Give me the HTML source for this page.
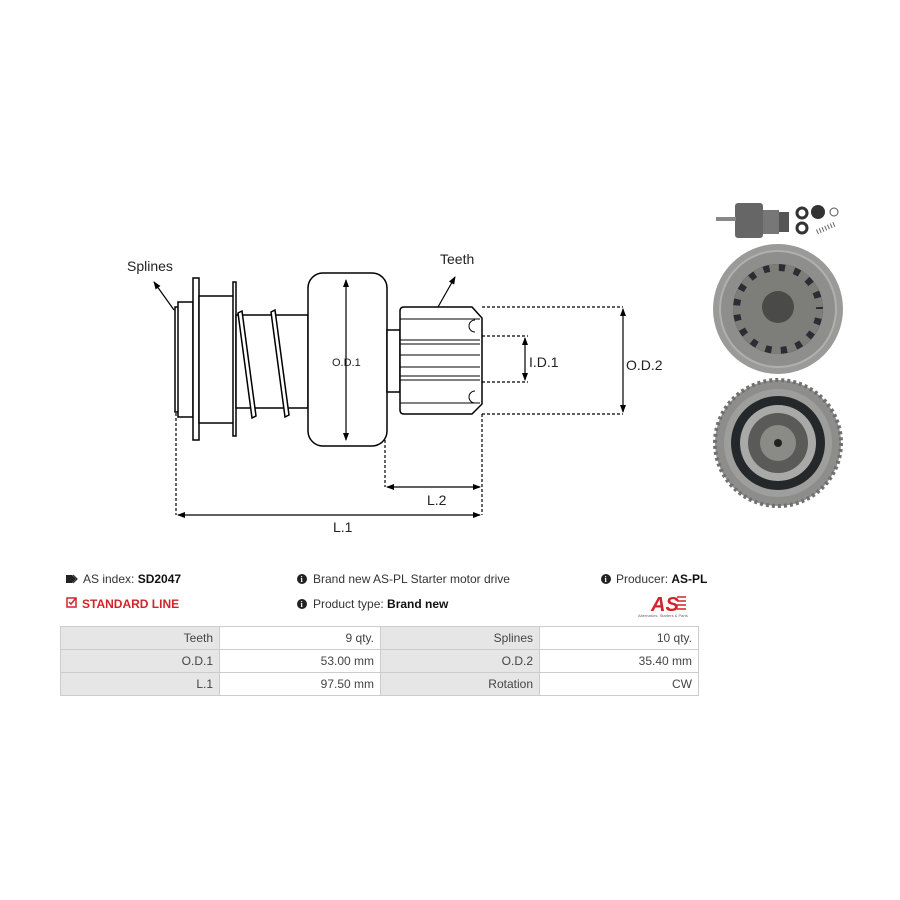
<!DOCTYPE html>
<html><head><meta charset="utf-8"><style>
html,body{margin:0;padding:0;background:#fff;}
body{width:900px;height:900px;position:relative;overflow:hidden;font-family:"Liberation Sans",sans-serif;}
.t{position:absolute;font-size:12px;color:#333;white-space:nowrap;}
table{position:absolute;left:60px;top:626px;width:638px;border-collapse:collapse;font-size:12px;color:#444;table-layout:fixed;}
td{height:22px;border:1px solid #ccc;text-align:right;padding:0 6px;}
td.g{background:#e6e6e6;}
</style></head><body>
<svg width="900" height="900" style="position:absolute;left:0;top:0" xmlns="http://www.w3.org/2000/svg">
<defs>
<marker id="a" markerWidth="8" markerHeight="8" refX="7" refY="4" orient="auto" markerUnits="userSpaceOnUse"><path d="M0,1 L8,4 L0,7 Z" fill="#000"/></marker>
<marker id="b" markerWidth="8" markerHeight="8" refX="1" refY="4" orient="auto" markerUnits="userSpaceOnUse"><path d="M8,1 L0,4 L8,7 Z" fill="#000"/></marker>
</defs>
<g fill="#fff" stroke="#000" stroke-width="1.5">
<rect x="175" y="307" width="4" height="105"/>
<rect x="178" y="302" width="15" height="115"/>
<rect x="193" y="278" width="6" height="162"/>
<rect x="199" y="296" width="35" height="127"/>
<rect x="233" y="282" width="3" height="154"/>
<rect x="236" y="315" width="72" height="93"/>
<path d="M238,313 l4,-2 l14,105 l-4,2 z"/>
<path d="M271,312 l4,-2 l14,105 l-4,2 z"/>
<rect x="308" y="273" width="79" height="173" rx="15"/>
<rect x="387" y="330" width="13" height="62"/>
<path d="M404,307 L472,307 L482,318 L482,404 L472,414 L404,414 Q400,414 400,410 L400,311 Q400,307 404,307 Z"/>
</g>
<g stroke="#000" stroke-width="1" fill="none">
<line x1="400" y1="319" x2="480" y2="319"/><line x1="400" y1="340" x2="480" y2="340"/><line x1="400" y1="344" x2="480" y2="344"/>
<line x1="400" y1="355" x2="480" y2="355"/><line x1="400" y1="367" x2="480" y2="367"/><line x1="400" y1="376" x2="480" y2="376"/>
<line x1="400" y1="380" x2="480" y2="380"/><line x1="400" y1="403" x2="480" y2="403"/>
<path d="M475,320 a5,5 0 0 0 0,12"/><path d="M475,391 a5,5 0 0 0 0,12"/>
</g>
<g stroke="#000" stroke-width="1.2" stroke-dasharray="3,2" fill="none">
<line x1="482" y1="307" x2="623" y2="307"/><line x1="482" y1="414" x2="623" y2="414"/>
<line x1="482" y1="336" x2="528" y2="336"/><line x1="482" y1="382" x2="528" y2="382"/>
<line x1="176" y1="413" x2="176" y2="515"/><line x1="385" y1="440" x2="385" y2="487"/><line x1="482" y1="414" x2="482" y2="515"/>
</g>
<g stroke="#000" stroke-width="1.2">
<line x1="346" y1="280" x2="346" y2="440" marker-start="url(#b)" marker-end="url(#a)"/>
<line x1="623" y1="309" x2="623" y2="412" marker-start="url(#b)" marker-end="url(#a)"/>
<line x1="525" y1="338" x2="525" y2="380" marker-start="url(#b)" marker-end="url(#a)"/>
<line x1="178" y1="515" x2="480" y2="515" marker-start="url(#b)" marker-end="url(#a)"/>
<line x1="387" y1="487" x2="480" y2="487" marker-start="url(#b)" marker-end="url(#a)"/>
<line x1="174" y1="310" x2="154" y2="282" marker-end="url(#a)"/>
<line x1="438" y1="307" x2="455" y2="277" marker-end="url(#a)"/>
</g>
<g font-family="Liberation Sans,sans-serif" font-size="14" fill="#222">
<text x="127" y="271">Splines</text><text x="440" y="264">Teeth</text>
<text x="332" y="366" font-size="11">O.D.1</text>
<text x="529" y="367">I.D.1</text><text x="626" y="370">O.D.2</text>
<text x="333" y="532">L.1</text><text x="427" y="505">L.2</text>
</g>
<g>
<rect x="735" y="203" width="28" height="35" rx="3" fill="#666"/>
<rect x="716" y="217" width="20" height="4" fill="#888"/>
<rect x="763" y="210" width="16" height="24" fill="#777"/>
<rect x="779" y="212" width="10" height="20" fill="#555"/>
<circle cx="802" cy="213" r="5" fill="none" stroke="#333" stroke-width="3"/>
<circle cx="802" cy="228" r="5" fill="none" stroke="#333" stroke-width="3"/>
<circle cx="818" cy="212" r="7" fill="#333"/>
<circle cx="834" cy="212" r="4" fill="none" stroke="#555"/>
<path d="M817,232 l18,-8" stroke="#666" stroke-width="5" stroke-dasharray="1,2"/>
<circle cx="778" cy="309" r="65" fill="#9a9a98"/>
<circle cx="778" cy="309" r="58" fill="#8e8e8c" stroke="#b0b0ae" stroke-width="2"/>
<circle cx="778" cy="309" r="45" fill="#2a2e33"/>
<circle cx="778" cy="309" r="38" fill="#7d7d7a"/>
<circle cx="778" cy="309" r="40" fill="none" stroke="#7d7d7a" stroke-width="10" stroke-dasharray="9,6"/>
<circle cx="778" cy="307" r="16" fill="#4a4a48"/>
<circle cx="778" cy="443" r="63" fill="#8d8d8b" stroke="#707070" stroke-width="4" stroke-dasharray="3,3"/>
<circle cx="778" cy="443" r="54" fill="#9e9e9c"/>
<circle cx="778" cy="443" r="47" fill="#25282b"/>
<circle cx="778" cy="443" r="38" fill="#a9a9a7"/>
<circle cx="778" cy="443" r="30" fill="#5a5a58"/>
<circle cx="778" cy="443" r="18" fill="#8a8a86"/>
<circle cx="778" cy="443" r="4" fill="#222"/>
</g>
<path d="M66,575 l6,0 l4,4 l-4,4 l-6,0 z" fill="#222"/>
<path d="M73,575 l4,4 l-4,4" fill="none" stroke="#222" stroke-width="1.2"/>
<rect x="67" y="598" width="9" height="9" fill="none" stroke="#d0242b" stroke-width="1.5"/>
<path d="M69,602 l2,2 l5,-6" fill="none" stroke="#d0242b" stroke-width="1.5"/>
<g fill="#222"><circle cx="302" cy="579" r="5"/><circle cx="302" cy="604" r="5"/><circle cx="606" cy="579" r="5"/></g>
<g fill="#fff" font-size="8" font-weight="bold" font-family="Liberation Serif,serif"><text x="300.5" y="582">i</text><text x="300.5" y="607">i</text><text x="604.5" y="582">i</text></g>
<text x="651" y="611" font-size="20" font-weight="bold" font-style="italic" fill="#d0242b" font-family="Liberation Sans,sans-serif">AS</text>
<g stroke="#d0242b" stroke-width="1.5"><line x1="677" y1="597" x2="686" y2="597"/><line x1="677" y1="601" x2="686" y2="601"/><line x1="677" y1="605" x2="686" y2="605"/><line x1="677" y1="609" x2="686" y2="609"/></g>
<text x="638" y="617" font-size="4" fill="#666">Alternators, Starters &amp; Parts</text>
</svg>
<div class="t" style="left:83px;top:572px">AS index: <b style="color:#111">SD2047</b></div>
<div class="t" style="left:82px;top:597px;color:#d0242b;font-weight:bold">STANDARD LINE</div>
<div class="t" style="left:313px;top:572px">Brand new AS-PL Starter motor drive</div>
<div class="t" style="left:313px;top:597px">Product type: <b style="color:#111">Brand new</b></div>
<div class="t" style="left:616px;top:572px">Producer: <b style="color:#111">AS-PL</b></div>
<table>
<colgroup><col style="width:159px"><col style="width:161px"><col style="width:159px"><col style="width:159px"></colgroup>
<tr><td class="g">Teeth</td><td>9 qty.</td><td class="g">Splines</td><td>10 qty.</td></tr>
<tr><td class="g">O.D.1</td><td>53.00 mm</td><td class="g">O.D.2</td><td>35.40 mm</td></tr>
<tr><td class="g">L.1</td><td>97.50 mm</td><td class="g">Rotation</td><td>CW</td></tr>
</table>
</body></html>
